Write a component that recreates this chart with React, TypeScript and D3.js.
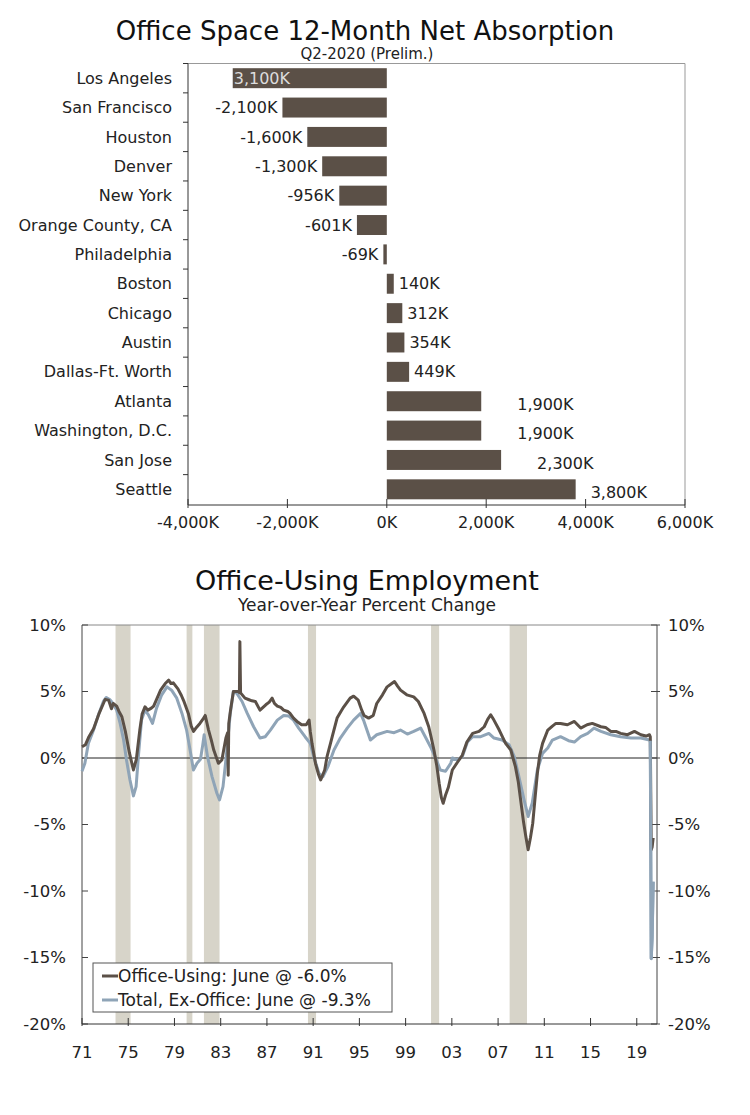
import React from 'react';
import { scaleLinear, scaleBand, line } from 'd3';

// ---- top chart data ----
const cities = [
  'Los Angeles',
  'San Francisco',
  'Houston',
  'Denver',
  'New York',
  'Orange County, CA',
  'Philadelphia',
  'Boston',
  'Chicago',
  'Austin',
  'Dallas-Ft. Worth',
  'Atlanta',
  'Washington, D.C.',
  'San Jose',
  'Seattle',
];
const absorption = [-3100, -2100, -1600, -1300, -956, -601, -69, 140, 312, 354, 449, 1900, 1900, 2300, 3800];
const absorptionLabels = ['3,100K', '-2,100K', '-1,600K', '-1,300K', '-956K', '-601K', '-69K', '140K', '312K', '354K', '449K', '1,900K', '1,900K', '2,300K', '3,800K'];
const absorptionTicks = [-4000, -2000, 0, 2000, 4000, 6000];
const absorptionTickLabels = ['-4,000K', '-2,000K', '0K', '2,000K', '4,000K', '6,000K'];

// ---- bottom chart data ----
const yearTicks = [1971, 1975, 1979, 1983, 1987, 1991, 1995, 1999, 2003, 2007, 2011, 2015, 2019];
const yearTickLabels = ['71', '75', '79', '83', '87', '91', '95', '99', '03', '07', '11', '15', '19'];
const pctTicks = [10, 5, 0, -5, -10, -15, -20];
const recessions: [number, number][] = [
  [1973.9, 1975.2],
  [1980.05, 1980.55],
  [1981.55, 1982.9],
  [1990.55, 1991.25],
  [2001.2, 2001.9],
  [2008.0, 2009.5],
];

const officeUsing: [number, number][] = [
  [1971.0, 0.85], [1971.3, 1.0], [1971.6, 1.6], [1972.0, 2.2], [1972.5, 3.4], [1973.0, 4.4],
  [1973.3, 4.35], [1973.55, 3.7], [1973.7, 4.1], [1974.0, 3.9], [1974.2, 3.5], [1974.45, 3.1],
  [1974.75, 2.0], [1975.1, 0.4], [1975.45, -0.9], [1975.7, -0.1], [1976.0, 2.1], [1976.2, 3.3],
  [1976.45, 3.85], [1976.7, 3.6], [1977.0, 3.75], [1977.2, 3.9], [1977.5, 4.5], [1977.8, 5.1],
  [1978.2, 5.6], [1978.5, 5.85], [1978.7, 5.6], [1978.9, 5.65], [1979.3, 5.2], [1979.6, 4.7],
  [1979.8, 4.3], [1980.2, 3.35], [1980.45, 2.4], [1980.65, 2.0], [1980.9, 2.3], [1981.2, 2.6],
  [1981.45, 2.9], [1981.66, 3.2], [1981.95, 2.1], [1982.2, 1.3], [1982.4, 0.6], [1982.8, -0.4],
  [1983.1, -0.15], [1983.45, 1.5], [1983.6, 1.9], [1983.65, -1.3], [1983.7, 2.6], [1983.85, 3.6],
  [1984.1, 5.0], [1984.55, 5.0], [1984.62, 4.9], [1984.66, 8.75], [1984.72, 4.9], [1985.1, 4.5],
  [1985.4, 4.4], [1985.7, 4.3], [1986.0, 4.25], [1986.4, 3.6], [1986.9, 4.0], [1987.2, 4.2],
  [1987.45, 4.5], [1987.65, 4.1], [1987.9, 3.9], [1988.2, 3.8], [1988.45, 3.6], [1988.8, 3.5],
  [1989.0, 3.35], [1989.3, 3.0], [1989.6, 2.75], [1990.0, 2.5], [1990.4, 2.5], [1990.65, 2.85],
  [1990.75, 2.0], [1990.9, 1.1], [1991.2, -0.4], [1991.45, -1.2], [1991.65, -1.65], [1992.0, -0.9],
  [1992.2, 0.1], [1992.5, 1.1], [1992.65, 1.6], [1993.07, 3.0], [1993.4, 3.5], [1993.65, 3.85],
  [1994.2, 4.5], [1994.5, 4.65], [1994.9, 4.35], [1995.2, 3.6], [1995.4, 3.2], [1995.8, 3.0],
  [1996.2, 3.2], [1996.5, 4.1], [1997.0, 4.75], [1997.4, 5.35], [1997.8, 5.6], [1998.04, 5.75],
  [1998.3, 5.4], [1998.56, 5.1], [1999.1, 4.75], [1999.7, 4.6], [2000.1, 4.25], [2000.6, 3.35],
  [2001.0, 2.35], [2001.2, 1.6], [2001.45, 0.6], [2001.7, -0.6], [2001.9, -1.9], [2002.1, -3.0],
  [2002.25, -3.4], [2002.45, -2.8], [2002.7, -2.2], [2003.04, -0.9], [2003.5, -0.3], [2003.9, 0.2],
  [2004.3, 1.2], [2004.8, 1.85], [2005.35, 2.0], [2005.8, 2.35], [2006.1, 2.9], [2006.36, 3.25],
  [2006.64, 2.85], [2007.1, 2.1], [2007.65, 1.1], [2008.1, 0.6], [2008.5, -0.65], [2008.75, -1.8],
  [2008.95, -3.15], [2009.2, -4.8], [2009.4, -5.9], [2009.6, -6.9], [2009.8, -6.0], [2010.0, -4.9],
  [2010.2, -3.0], [2010.4, -1.15], [2010.6, 0.2], [2010.85, 1.1], [2011.3, 2.1], [2011.7, 2.4],
  [2012.0, 2.6], [2012.4, 2.6], [2013.0, 2.5], [2013.6, 2.75], [2014.15, 2.25], [2014.7, 2.5],
  [2015.15, 2.6], [2015.9, 2.35], [2016.3, 2.3], [2016.75, 2.0], [2017.2, 2.0], [2017.6, 1.85],
  [2018.2, 1.75], [2018.8, 2.0], [2019.35, 1.75], [2019.8, 1.65], [2020.1, 1.75], [2020.17, 1.6],
  [2020.25, -6.9], [2020.33, -6.7], [2020.42, -6.0],
];

const totalExOffice: [number, number][] = [
  [1971.0, -1.0], [1971.25, -0.4], [1971.55, 1.1], [1972.0, 2.1], [1972.4, 3.2], [1972.85, 4.25],
  [1973.1, 4.55], [1973.4, 4.4], [1973.6, 4.2], [1974.0, 3.6], [1974.3, 2.6], [1974.6, 1.35],
  [1974.85, -0.15], [1975.15, -1.65], [1975.45, -2.85], [1975.68, -2.15], [1975.9, 0.35], [1976.15, 2.85],
  [1976.45, 3.6], [1976.75, 3.25], [1977.1, 2.6], [1977.45, 3.75], [1977.9, 4.75], [1978.35, 5.35],
  [1978.75, 5.1], [1979.2, 4.5], [1979.65, 3.35], [1980.05, 2.1], [1980.4, 0.35], [1980.64, -0.9],
  [1980.95, -0.4], [1981.25, -0.1], [1981.45, 1.0], [1981.57, 1.75], [1981.86, 0.1], [1982.25, -1.4],
  [1982.67, -2.65], [1982.9, -3.15], [1983.2, -2.15], [1983.48, 0.1], [1983.83, 3.35], [1984.1, 5.0],
  [1984.4, 4.85], [1984.85, 4.25], [1985.3, 3.35], [1985.85, 2.35], [1986.4, 1.5], [1986.85, 1.6],
  [1987.3, 2.1], [1987.9, 2.85], [1988.45, 3.2], [1988.9, 3.15], [1989.3, 2.85], [1989.75, 2.25],
  [1990.3, 1.6], [1990.75, 1.1], [1991.05, 0.1], [1991.5, -1.15], [1991.85, -1.4], [1992.3, -0.6],
  [1992.8, 0.6], [1993.35, 1.5], [1993.95, 2.25], [1994.5, 2.85], [1995.1, 3.35], [1995.4, 2.75],
  [1995.95, 1.35], [1996.5, 1.75], [1997.4, 2.0], [1998.0, 1.9], [1998.55, 2.1], [1999.15, 1.8],
  [1999.7, 2.0], [2000.3, 2.25], [2000.7, 1.6], [2001.15, 0.85], [2001.6, 0.0], [2002.0, -0.9],
  [2002.45, -1.0], [2002.9, -0.4], [2003.05, 0.0], [2003.45, -0.15], [2003.9, 0.1], [2004.35, 1.2],
  [2004.8, 1.6], [2005.5, 1.6], [2006.2, 1.85], [2006.65, 1.5], [2007.35, 1.35], [2007.95, 1.0],
  [2008.4, 0.1], [2008.8, -1.4], [2009.25, -3.15], [2009.6, -4.4], [2009.95, -3.4], [2010.4, -0.9],
  [2010.85, 0.35], [2011.3, 0.75], [2011.7, 1.35], [2012.4, 1.6], [2013.1, 1.3], [2013.6, 1.2],
  [2014.15, 1.6], [2014.75, 1.85], [2015.3, 2.25], [2015.9, 2.0], [2016.75, 1.75], [2017.6, 1.6],
  [2018.5, 1.5], [2019.35, 1.5], [2020.1, 1.35], [2020.17, 1.3], [2020.25, -15.1], [2020.33, -13.5],
  [2020.42, -9.3],
];

const legendItems = ['Office-Using: June @ -6.0%', 'Total, Ex-Office: June @ -9.3%'];

const FONT = '"DejaVu Sans", Verdana, sans-serif';
const BROWN = '#5b5047';
const BLUE = '#8fa4b7';
const BAND = '#d7d4c9';

// label sits inside the bar (the minus got cut off in the source)
const labelInside = ['Los Angeles'];

const labelGap = (v: number) => {
  if (v < 0) return -5;
  if (v > 3000) return 15;
  if (v > 1000) return 36;
  return 5;
};

const AbsorptionChart = () => {
  const x = scaleLinear().domain([-4000, 6000]).range([188, 685]);
  const y = scaleBand().domain(cities).range([63.5, 504]).paddingInner(0.32).paddingOuter(0.16);
  const axisY = 505;
  const step = y.step();

  return (
    <g fontFamily={FONT}>
      <text x={365} y={40} textAnchor="middle" fontSize={26} fill="#111">
        Office Space 12-Month Net Absorption
      </text>
      <text x={367} y={59} textAnchor="middle" fontSize={15} fill="#222">
        Q2-2020 (Prelim.)
      </text>

      {/* frame */}
      <line x1={188} x2={685} y1={63.5} y2={63.5} stroke="#999" />
      <line x1={685} x2={685} y1={63.5} y2={axisY} stroke="#999" />
      <line x1={188} x2={188} y1={63.5} y2={axisY} stroke="#333" />
      {cities.map((c, i) => (
        <line key={'yt' + c} x1={183} x2={188} y1={63.5 + i * step} y2={63.5 + i * step} stroke="#333" />
      ))}

      {cities.map((c, i) => {
        const v = absorption[i];
        const x0 = x(Math.min(0, v));
        const x1 = x(Math.max(0, v));
        const cy = (y(c) as number) + y.bandwidth() / 2;
        const inside = labelInside.includes(c);
        return (
          <g key={c}>
            <rect x={x0} y={y(c)} width={x1 - x0} height={y.bandwidth()} fill={BROWN} />
            <text x={172} y={cy} dy="0.35em" textAnchor="end" fontSize={16} fill="#222">
              {c}
            </text>
            {inside ? (
              <text x={x0 + 1} y={cy} dy="0.35em" fontSize={16} fill="#ddd">
                {absorptionLabels[i]}
              </text>
            ) : (
              <text
                x={x(v) + labelGap(v)}
                y={cy + (v > 1000 ? 3 : 0)}
                dy="0.35em"
                textAnchor={v < 0 ? 'end' : 'start'}
                fontSize={16}
                fill="#222"
              >
                {absorptionLabels[i]}
              </text>
            )}
          </g>
        );
      })}

      <line x1={188} x2={685} y1={axisY} y2={axisY} stroke="#333" />
      {absorptionTicks.map((t, i) => (
        <g key={t}>
          <line x1={x(t)} x2={x(t)} y1={axisY - 6} y2={axisY + 3} stroke="#333" />
          <text x={x(t)} y={528} textAnchor="middle" fontSize={16} fill="#222">
            {absorptionTickLabels[i]}
          </text>
        </g>
      ))}
    </g>
  );
};

const EmploymentChart = () => {
  const left = 82;
  const right = 657;
  const top = 625;
  const bottom = 1024;
  const x = scaleLinear().domain([1971, 2020.75]).range([left, right]);
  const y = scaleLinear().domain([-20, 10]).range([bottom, top]);
  const path = line<[number, number]>()
    .x((d) => x(d[0]))
    .y((d) => y(d[1]));

  return (
    <g fontFamily={FONT}>
      <text x={367} y={590} textAnchor="middle" fontSize={27} fill="#111">
        Office-Using Employment
      </text>
      <text x={367} y={611} textAnchor="middle" fontSize={17} fill="#222">
        Year-over-Year Percent Change
      </text>

      {recessions.map(([a, b]) => (
        <rect key={a} x={x(a)} y={top} width={x(b) - x(a)} height={bottom - top} fill={BAND} />
      ))}

      <line x1={left} x2={right} y1={top} y2={top} stroke="#888" />
      <line x1={left} x2={right} y1={y(0)} y2={y(0)} stroke="#222" />
      <line x1={left} x2={left} y1={top} y2={bottom} stroke="#444" />
      <line x1={right} x2={right} y1={top} y2={bottom} stroke="#444" />

      {pctTicks.map((t) => (
        <g key={t}>
          <line x1={left} x2={left + 6} y1={y(t)} y2={y(t)} stroke="#444" />
          <line x1={right - 6} x2={right + 3} y1={y(t)} y2={y(t)} stroke="#444" />
          <text x={66} y={y(t)} dy="0.35em" textAnchor="end" fontSize={16.5} fill="#222">
            {t + '%'}
          </text>
          <text x={668} y={y(t)} dy="0.35em" textAnchor="start" fontSize={16.5} fill="#222">
            {t + '%'}
          </text>
        </g>
      ))}

      <path d={path(totalExOffice) || ''} fill="none" stroke={BLUE} strokeWidth={3} strokeLinejoin="round" />
      <path d={path(officeUsing) || ''} fill="none" stroke={BROWN} strokeWidth={3} strokeLinejoin="round" />
      {/* blue drawn again on top for the final months */}
      <path d={path(totalExOffice.slice(-4)) || ''} fill="none" stroke={BLUE} strokeWidth={3} />

      <line x1={left} x2={right} y1={bottom} y2={bottom} stroke="#333" />
      {yearTicks.map((t, i) => (
        <g key={t}>
          <line x1={x(t)} x2={x(t)} y1={bottom - 6} y2={bottom + 2} stroke="#333" />
          <text x={x(t)} y={1058} textAnchor="middle" fontSize={16.5} fill="#222">
            {yearTickLabels[i]}
          </text>
        </g>
      ))}

      <g>
        <rect x={93} y={963} width={299} height={49} fill="#fff" stroke="#555" />
        {legendItems.map((label, i) => (
          <g key={label}>
            <line x1={102} x2={118} y1={976 + i * 24} y2={976 + i * 24} stroke={i === 0 ? BROWN : BLUE} strokeWidth={3} />
            <text x={118} y={976 + i * 24} dy="0.35em" fontSize={17} fill="#222">
              {label}
            </text>
          </g>
        ))}
      </g>
    </g>
  );
};

export default function App() {
  return (
    <svg width={750} height={1115} style={{ position: 'absolute', left: 0, top: 0, background: '#fff' }}>
      <rect width={750} height={1115} fill="#fff" />
      <AbsorptionChart />
      <EmploymentChart />
    </svg>
  );
}
